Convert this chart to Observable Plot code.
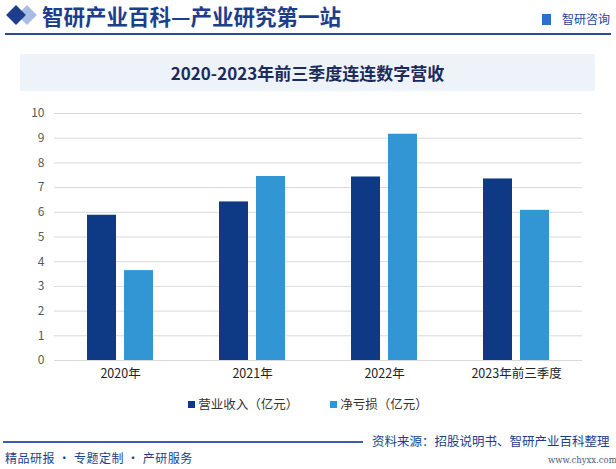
<!DOCTYPE html>
<html>
<head>
<meta charset="utf-8">
<script src="https://cdn.jsdelivr.net/npm/d3@7"></script>
<script src="https://cdn.jsdelivr.net/npm/@observablehq/plot@0.6"></script>
<style>
  html, body { margin: 0; padding: 0; background: #fff; }
  body { width: 616px; height: 469px; position: relative; overflow: hidden; font-family: "Noto Sans CJK SC", "Noto Sans", sans-serif; }
  .abs { position: absolute; }
  #header-title { left: 42px; top: 1px; font-size: 21.5px; line-height: 30px; font-weight: 700; color: #1c3e8c; white-space: nowrap; }
  .diamond { width: 14px; height: 14px; transform: rotate(45deg); }
  #hline { left: 5px; top: 33px; width: 606px; height: 1.5px; background: #2a4a9a; }
  #logo { left: 542px; top: 11px; font-size: 12px; line-height: 16px; color: #23449a; white-space: nowrap; }
  #titlebox { left: 20px; top: 54px; width: 575px; height: 37px; background: #eef2f9; }
  #charttitle { left: 20px; top: 54px; width: 575px; height: 37px; line-height: 37px; text-align: center; font-size: 17px; font-weight: 700; color: #1b2b5c; }
  #chart { left: 0; top: 95px; }
  #legend { left: 0; top: 394px; width: 616px; text-align: center; font-size: 12.5px; color: #333; white-space: nowrap; }
  #legend span.item { margin: 0 16px; }
  #legend i { display: inline-block; width: 7px; height: 7px; margin-right: 3px; vertical-align: 1px; }
  #fline { left: 3px; top: 441px; width: 360px; height: 1.5px; background: #3a5eb0; }
  #source { left: 372px; top: 431px; font-size: 12.5px; color: #1c3e8c; white-space: nowrap; }
  #slogan { left: 5px; top: 449px; font-size: 12px; color: #1c3e8c; white-space: nowrap; letter-spacing: 0.5px; }
  #url { left: 548px; top: 455px; font-size: 8.5px; color: #4a5a80; font-family: "DejaVu Serif", serif; white-space: nowrap; }
</style>
</head>
<body>
<script>
// ---- data ----
const categories = ["2020年", "2021年", "2022年", "2023年前三季度"];
const seriesNames = ["营业收入（亿元）", "净亏损（亿元）"];
const revenue = [5.88, 6.42, 7.43, 7.35];
const netLoss = [3.64, 7.45, 9.16, 6.08];
const yTicks = [0, 1, 2, 3, 4, 5, 6, 7, 8, 9, 10];
const colors = ["#0e3a85", "#3196d3"];

// ---- page chrome ----
function el(id, cls, text) {
  const d = document.createElement("div");
  if (id) d.id = id;
  d.className = "abs" + (cls ? " " + cls : "");
  if (text != null) d.textContent = text;
  document.body.appendChild(d);
  return d;
}
const d2 = el(null, "diamond"); d2.style.cssText += "left:20px;top:8px;background:#a9bde3;";
const d1 = el(null, "diamond"); d1.style.cssText += "left:9px;top:8px;background:#1c3e8c;";
el("header-title", null, "智研产业百科—产业研究第一站");
el("hline");
const lg = el("logo"); lg.innerHTML = '<span style="display:inline-block;width:9px;height:11px;background:#2d6fd0;vertical-align:-1px;margin-right:11px;"></span>智研咨询';
el("titlebox");
el("charttitle", null, "2020-2023年前三季度连连数字营收");

// ---- chart ----
const rows = categories.map((c, i) => ({category: c, revenue: revenue[i], loss: netLoss[i]}));
const barW = 29, gap = 8;
const chart = Plot.plot({
  width: 616,
  height: 292,
  marginTop: 18,
  marginBottom: 27,
  marginLeft: 54,
  marginRight: 34,
  style: {fontFamily: "'Noto Sans CJK SC', sans-serif", background: "transparent"},
  x: {domain: categories, paddingInner: 0.5, paddingOuter: 0.25, label: null},
  y: {domain: [0, 10], label: null},
  marks: [
    Plot.ruleY(yTicks, {stroke: "#d9d9d9", strokeWidth: 1}),
    Plot.barY(rows, {x: "category", y: "revenue", fill: colors[0], insetRight: barW + gap}),
    Plot.barY(rows, {x: "category", y: "loss", fill: colors[1], insetLeft: barW + gap}),
    Plot.axisY({ticks: yTicks, tickSize: 0, tickPadding: 10, fontSize: 12, color: "#595959", tickFormat: d => d}),
    Plot.axisX({tickSize: 0, tickPadding: 9, fontSize: 12.5, color: "#222"})
  ]
});
chart.classList.add("abs");
chart.id = "chart";
document.body.appendChild(chart);

// ---- legend ----
const leg = el("legend");
leg.innerHTML = seriesNames.map((n, i) => `<span class="item"><i style="background:${colors[i]}"></i>${n}</span>`).join("");

// ---- footer ----
el("fline");
el("source", null, "资料来源：招股说明书、智研产业百科整理");
el("slogan", null, "精品研报 · 专题定制 · 产研服务");
el("url", null, "www.chyxx.com");
</script>
</body>
</html>
